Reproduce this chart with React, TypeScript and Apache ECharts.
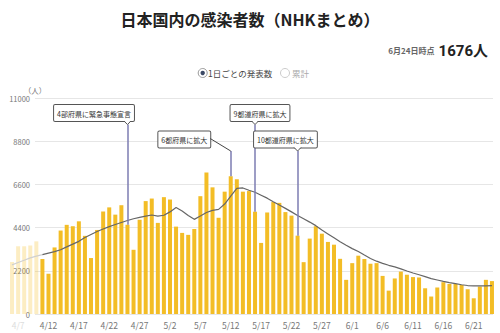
import React, { useEffect, useRef } from 'react';
import * as echarts from 'echarts';

const FONT = "'Noto Sans CJK JP', 'Noto Sans', sans-serif";

const dates = [
  '4/6', '4/7', '4/8', '4/9', '4/10', '4/11', '4/12', '4/13', '4/14', '4/15',
  '4/16', '4/17', '4/18', '4/19', '4/20', '4/21', '4/22', '4/23', '4/24', '4/25',
  '4/26', '4/27', '4/28', '4/29', '4/30', '5/1', '5/2', '5/3', '5/4', '5/5',
  '5/6', '5/7', '5/8', '5/9', '5/10', '5/11', '5/12', '5/13', '5/14', '5/15',
  '5/16', '5/17', '5/18', '5/19', '5/20', '5/21', '5/22', '5/23', '5/24', '5/25',
  '5/26', '5/27', '5/28', '5/29', '5/30', '5/31', '6/1', '6/2', '6/3', '6/4',
  '6/5', '6/6', '6/7', '6/8', '6/9', '6/10', '6/11', '6/12', '6/13', '6/14',
  '6/15', '6/16', '6/17', '6/18', '6/19', '6/20', '6/21', '6/22', '6/23', '6/24',
];

// daily announced cases
const daily = [
  2650, 3450, 3450, 3490, 3700, 2800, 2050, 3390, 4250, 4540,
  4470, 4720, 3980, 2850, 4280, 5220, 5430, 5060, 5540, 4550,
  3270, 4800, 5750, 5880, 4640, 5950, 5830, 4450, 4130, 4030,
  4330, 6000, 7200, 6450, 4900, 6230, 7020, 6860, 6230, 6260,
  5210, 3620, 5170, 5700, 5660, 5190, 5010, 3990, 2640, 3840,
  4470, 4090, 3670, 3530, 2810, 1740, 2590, 2970, 2800, 2560,
  2590, 1940, 1190, 1810, 2160, 2000, 1880, 1860, 1310, 890,
  1350, 1620, 1530, 1530, 1480, 1260, 800, 1400, 1740, 1676,
];

// 7-day average line
const avg7 = [
  2500, 2620, 2740, 2860, 2950, 3020, 3100, 3180, 3270, 3420,
  3560, 3700, 3900, 4050, 4200, 4330, 4450, 4560, 4660, 4760,
  4850, 4920, 4980, 5040, 4980, 5030, 5200, 5420, 5250, 5020,
  4820, 4990, 5170, 5280, 5330, 5600, 6000, 6400, 6420, 6300,
  6200, 6050, 5900, 5720, 5550, 5380, 5200, 5020, 4850, 4680,
  4500, 4280, 4080, 3880, 3680, 3500, 3330, 3180, 3000, 2830,
  2690, 2580, 2480, 2400, 2300, 2190, 2090, 2000, 1900, 1800,
  1730, 1660, 1600, 1550, 1490, 1450, 1430, 1430, 1430, 1450,
];

const fadedCount = 5; // points before the visible window (4/6 - 4/10)

const yMin = 0;
const yMax = 11000;
const yInterval = 2200;

const annotations = [
  { date: '4/25', text: '4部府県に緊急事態宣言', tip: 9650, align: 'right', dx: 6.5, side: false },
  { date: '5/12', text: '6都府県に拡大', tip: 8300, align: 'right', dx: -20.5, side: true },
  { date: '5/16', text: '9都道府県に拡大', tip: 9650, align: 'left', dx: -24.5, side: false },
  { date: '5/23', text: '10都道府県に拡大', tip: 8300, align: 'left', dx: -43.5, side: false },
];

export default function App() {
  const ref = useRef<HTMLDivElement>(null);

  useEffect(() => {
    if (!ref.current) return;
    const chart = echarts.init(ref.current, undefined, { renderer: 'svg' });

    const barData = daily.map((v, i) =>
      i < fadedCount ? { value: v, itemStyle: { opacity: 0.28 } } : v
    );
    const fadedLine = avg7.map((v, i) => (i <= fadedCount ? v : null));
    const mainLine = avg7.map((v, i) => (i >= fadedCount ? v : null));

    const markData = annotations.map((a) => {
      const idx = dates.indexOf(a.date);
      return [{ coord: [idx, a.tip] }, { coord: [idx, daily[idx]] }];
    });

    const option: any = {
      animation: false,
      textStyle: { fontFamily: FONT },
      title: [
        {
          text: '日本国内の感染者数（NHKまとめ）',
          left: 'center',
          top: 6,
          textStyle: { fontSize: 16, fontWeight: 'bold', color: '#222', fontFamily: FONT },
        },
        {
          text: '{a|6月24日時点} {b|1676人}',
          right: 7,
          top: 37,
          textStyle: {
            fontFamily: FONT,
            rich: {
              a: { fontSize: 8, color: '#666', fontFamily: FONT },
              b: { fontSize: 15, fontWeight: 'bold', color: '#222', fontFamily: 'Roboto, ' + FONT },
            },
          },
        },
      ],
      grid: [
        { left: 9, right: 5, top: 98, bottom: 19 },
        { left: 35, right: 7, top: 98, bottom: 19 },
      ],
      xAxis: [
        {
          type: 'category',
          gridIndex: 0,
          data: dates,
          boundaryGap: true,
          axisLine: { show: false },
          axisTick: { show: false },
          splitLine: { show: false },
          axisLabel: {
            interval: (i: number) => (i - 1) % 5 === 0,
            color: (v: string) => (dates.indexOf(v) < fadedCount ? '#dddddd' : '#777777'),
            fontSize: 8.5,
            margin: 7,
            fontFamily: FONT,
          },
        },
        { type: 'value', gridIndex: 1, show: false, min: 0, max: 1 },
      ],
      yAxis: [
        { type: 'value', gridIndex: 0, min: yMin, max: yMax, interval: yInterval, show: false },
        {
          type: 'value',
          gridIndex: 1,
          min: yMin,
          max: yMax,
          interval: yInterval,
          name: '（人）',
          nameLocation: 'end',
          nameGap: 3,
          nameTextStyle: { fontSize: 7.5, color: '#777', fontFamily: FONT },
          axisLine: { show: false },
          axisTick: { show: false },
          axisLabel: {
            fontSize: 7.5,
            color: '#777',
            margin: 5,
            fontFamily: FONT,
            formatter: (v: number) => String(v),
          },
          splitLine: { lineStyle: { color: '#e6e6e6', width: 1 } },
        },
      ],
      series: [
        {
          type: 'bar',
          xAxisIndex: 0,
          yAxisIndex: 0,
          data: barData,
          barWidth: 4,
          itemStyle: { color: '#f3bd26' },
          markLine: {
            silent: true,
            symbol: ['none', 'none'],
            label: { show: false },
            lineStyle: { color: '#7c7cb2', width: 1.5, type: 'solid' },
            data: markData,
            z: 5,
          },
        },
        {
          type: 'line',
          xAxisIndex: 0,
          yAxisIndex: 0,
          data: fadedLine,
          symbol: 'none',
          lineStyle: { color: '#d0d0d0', width: 1.2 },
          z: 3,
        },
        {
          type: 'line',
          xAxisIndex: 0,
          yAxisIndex: 0,
          data: mainLine,
          symbol: 'none',
          lineStyle: { color: '#666', width: 1.2 },
          z: 3,
        },
      ],
    };

    chart.setOption(option);

    const graphics: any[] = [
      { type: 'circle', shape: { cx: 202.7, cy: 73, r: 4.5 }, style: { fill: '#fff', stroke: '#999', lineWidth: 1 } },
      { type: 'circle', shape: { cx: 202.7, cy: 73, r: 2.2 }, style: { fill: '#3c4a66' } },
      {
        type: 'text', x: 208, y: 73,
        style: { text: '1日ごとの発表数', fontSize: 8.5, fill: '#444', verticalAlign: 'middle', fontFamily: FONT },
      },
      { type: 'circle', shape: { cx: 285, cy: 73, r: 4.5 }, style: { fill: '#fff', stroke: '#ccc', lineWidth: 1 } },
      {
        type: 'text', x: 292, y: 73,
        style: { text: '累計', fontSize: 8.5, fill: '#aaa', verticalAlign: 'middle', fontFamily: FONT },
      },
    ];

    annotations.forEach((a) => {
      const idx = dates.indexOf(a.date);
      const p = chart.convertToPixel({ xAxisIndex: 0, yAxisIndex: 0 }, [idx, a.tip]) as number[];
      const tx = p[0];
      const ty = p[1];
      const boxBottom = ty - 3.5;
      graphics.push({
        type: 'text',
        x: tx + a.dx,
        y: boxBottom,
        z: 100,
        style: {
          text: a.text,
          fontSize: 7,
          fontFamily: FONT,
          fill: '#333',
          align: a.align,
          verticalAlign: 'bottom',
          backgroundColor: '#fff',
          borderColor: '#555',
          borderWidth: 1,
          borderRadius: 1,
          padding: [5, 3, 4, 3],
        },
      });
      if (a.side) {
        graphics.push({
          type: 'line',
          z: 100,
          shape: { x1: tx + a.dx, y1: boxBottom - 9, x2: tx, y2: ty },
          style: { stroke: '#444', lineWidth: 1 },
        });
      } else {
        graphics.push({
          type: 'polygon',
          z: 101,
          shape: { points: [[tx - 3.5, boxBottom - 0.8], [tx + 3.5, boxBottom - 0.8], [tx, boxBottom + 3.5]] },
          style: { fill: '#fff' },
        });
        graphics.push({
          type: 'polyline',
          z: 102,
          shape: { points: [[tx - 3.5, boxBottom], [tx, boxBottom + 3.5], [tx + 3.5, boxBottom]] },
          style: { stroke: '#555', lineWidth: 1, fill: 'none' },
        });
      }
    });

    chart.setOption({ graphic: graphics });

    return () => chart.dispose();
  }, []);

  return (
    <div
      ref={ref}
      style={{ position: 'fixed', left: 0, top: 0, width: 500, height: 333, background: '#fff' }}
    />
  );
}
